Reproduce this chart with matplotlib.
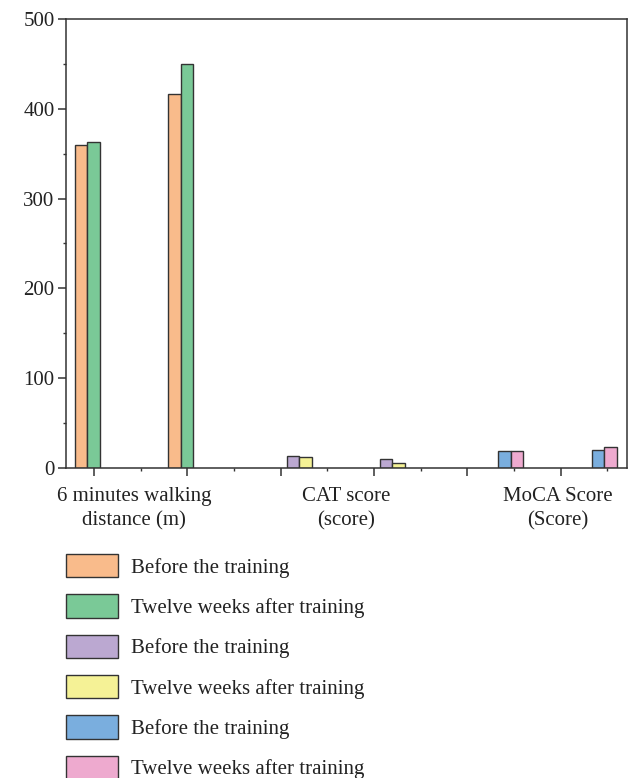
import matplotlib
matplotlib.use("Agg")
import matplotlib.pyplot as plt
from matplotlib.patches import Patch
from matplotlib.ticker import FixedLocator, MultipleLocator
import numpy as np

# data
measures = ["6 minutes walking\ndistance (m)", "CAT score\n(score)", "MoCA Score\n(Score)"]
before = [[360, 416], [13, 10], [19.3, 20.3]]
after = [[363, 450], [12, 6], [19, 23]]
legend_labels = ["Before the training", "Twelve weeks after training"] * 3

before_colors = ["#F9BB8B", "#BBA8D1", "#7AAEDE"]
after_colors = ["#7AC997", "#F5F296", "#EEAACF"]
edge = "#333333"

plt.rcParams["font.family"] = ["Liberation Serif", "DejaVu Serif"]
plt.rcParams["font.size"] = 15

fig = plt.figure(figsize=(6.3, 7.78), dpi=100)
ax = fig.add_axes([0.1043, 0.3985, 0.8905, 0.5771])

w = 0.134
handles = []
for i in range(3):
    pos = np.array([0.23, 1.23]) + i * 2.27
    ax.bar(pos - w / 2, before[i], width=w, color=before_colors[i],
           edgecolor=edge, linewidth=1.0)
    ax.bar(pos + w / 2, after[i], width=w, color=after_colors[i],
           edgecolor=edge, linewidth=1.0)
    handles.append(Patch(facecolor=before_colors[i], edgecolor=edge, linewidth=1.0))
    handles.append(Patch(facecolor=after_colors[i], edgecolor=edge, linewidth=1.0))
    ax.annotate(measures[i], xy=(pos.mean(), 0), xycoords=("data", "axes fraction"),
                xytext=(0, -14), textcoords="offset points",
                ha="center", va="top", fontsize=15, color="#222222",
                linespacing=1.35)

ax.set_xlim(0, 6.01)
ax.set_ylim(0, 500)
ax.xaxis.set_major_locator(FixedLocator(0.303 + np.arange(6)))
ax.xaxis.set_minor_locator(FixedLocator(0.803 + np.arange(6)))
ax.set_xticklabels([])
ax.yaxis.set_major_locator(MultipleLocator(100))
ax.yaxis.set_minor_locator(MultipleLocator(50))

for s in ax.spines.values():
    s.set_linewidth(1.1)
    s.set_color("#333333")
ax.tick_params(which="major", length=6, width=1.1, color="#333333",
               labelcolor="#222222", labelsize=15, pad=2)
ax.tick_params(which="minor", length=2.5, width=1.0, color="#333333")

fig.legend(handles, legend_labels, loc="upper left",
           bbox_to_anchor=(0.1043, 1 - 554 / 778), frameon=False,
           fontsize=15, handlelength=2.5, handleheight=1.35,
           labelspacing=0.8, handletextpad=0.65, borderaxespad=0,
           borderpad=0, labelcolor="#222222")

fig.savefig("out.png", dpi=100)
